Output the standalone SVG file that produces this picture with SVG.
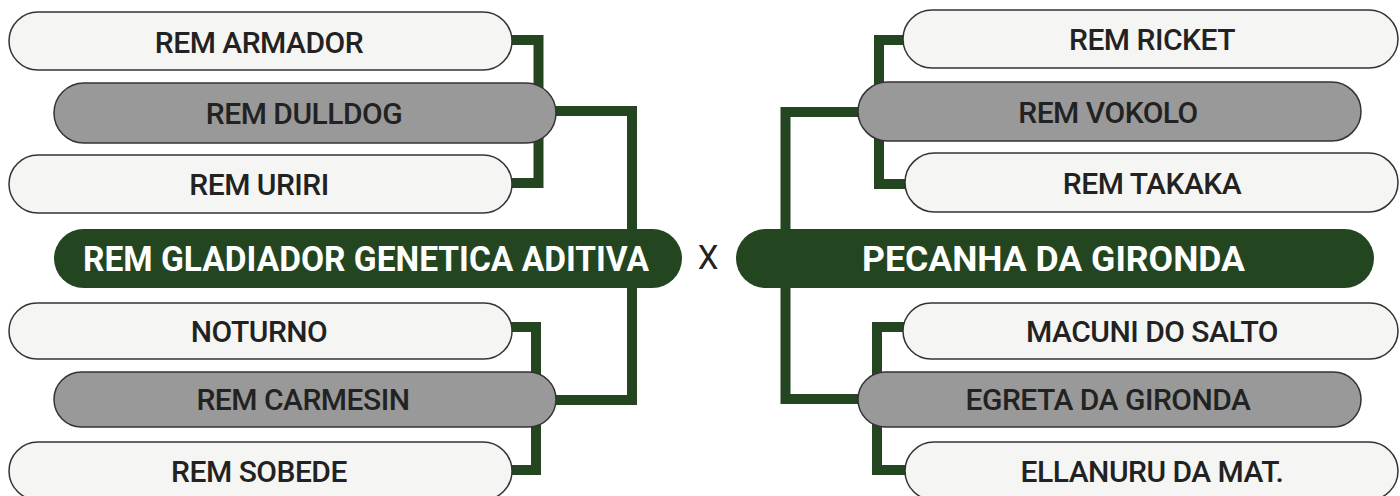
<svg xmlns="http://www.w3.org/2000/svg" width="1400" height="496" viewBox="0 0 1400 496">
<style>
.light{fill:#f5f5f3;stroke:#333;stroke-width:1.5}
.gray{fill:#999;stroke:#333;stroke-width:1.5}
.dark{fill:#234621}
.t{font-family:Roboto,"Liberation Sans",Arial,sans-serif;font-weight:500;font-size:30px;fill:#222;text-anchor:middle;letter-spacing:-0.5px}
.tw{font-family:Roboto,"Liberation Sans",Arial,sans-serif;font-weight:bold;font-size:35px;fill:#fff;text-anchor:middle}
.c{fill:none;stroke:#234621;stroke-width:10;stroke-linejoin:miter}
</style>
<rect width="1400" height="496" fill="#fff"/>
<g id="connectors">
<path class="c" d="M500,40 H538.5 V183 H500"/>
<path class="c" d="M545,111 H632 V400 H545"/>
<path class="c" d="M500,327 H536 V470 H500"/>
<path class="c" d="M915,40 H879 V184 H915"/>
<path class="c" d="M870,112 H785.5 V399 H870"/>
<path class="c" d="M915,327 H877 V470 H915"/>
</g>
<g id="armador"><rect class="light" x="9" y="12" width="503" height="58" rx="29"/><text class="t" x="259" y="52.5">REM ARMADOR</text></g>
<g id="dulldog"><rect class="gray" x="54" y="83" width="502" height="60" rx="30"/><text class="t" x="304" y="124">REM DULLDOG</text></g>
<g id="uriri"><rect class="light" x="9" y="155" width="503" height="58" rx="29"/><text class="t" x="259" y="195">REM URIRI</text></g>
<g id="gladiador"><rect class="dark" x="54" y="229" width="628" height="59" rx="29.5"/><text class="tw" x="366" y="270.5" textLength="566" lengthAdjust="spacingAndGlyphs">REM GLADIADOR GENETICA ADITIVA</text></g>
<g id="noturno"><rect class="light" x="9" y="303" width="503" height="56" rx="28"/><text class="t" x="259" y="342">NOTURNO</text></g>
<g id="carmesin"><rect class="gray" x="54" y="372" width="502" height="55" rx="27.5"/><text class="t" x="303" y="410">REM CARMESIN</text></g>
<g id="sobede"><rect class="light" x="9" y="442" width="503" height="58" rx="29"/><text class="t" x="259" y="482">REM SOBEDE</text></g>
<g id="x"><text x="708" y="269" style="font-family:Roboto,'Liberation Sans',Arial,sans-serif;font-size:33px;fill:#222;text-anchor:middle">X</text></g>
<g id="ricket"><rect class="light" x="903" y="10" width="495" height="58" rx="29"/><text class="t" x="1152" y="50">REM RICKET</text></g>
<g id="vokolo"><rect class="gray" x="858" y="82" width="503" height="59" rx="29.5"/><text class="t" x="1108" y="123">REM VOKOLO</text></g>
<g id="takaka"><rect class="light" x="905" y="153" width="493" height="59" rx="29.5"/><text class="t" x="1152" y="194">REM TAKAKA</text></g>
<g id="pecanha"><rect class="dark" x="736" y="229" width="638" height="59" rx="29.5"/><text class="tw" x="1053.5" y="270.5" textLength="383" lengthAdjust="spacingAndGlyphs">PECANHA DA GIRONDA</text></g>
<g id="macuni"><rect class="light" x="903" y="303" width="495" height="56" rx="28"/><text class="t" x="1152" y="342">MACUNI DO SALTO</text></g>
<g id="egreta"><rect class="gray" x="858" y="372" width="503" height="55" rx="27.5"/><text class="t" x="1108" y="410">EGRETA DA GIRONDA</text></g>
<g id="ellanuru"><rect class="light" x="905" y="442" width="493" height="58" rx="29"/><text class="t" x="1152" y="482">ELLANURU DA MAT.</text></g>
</svg>
